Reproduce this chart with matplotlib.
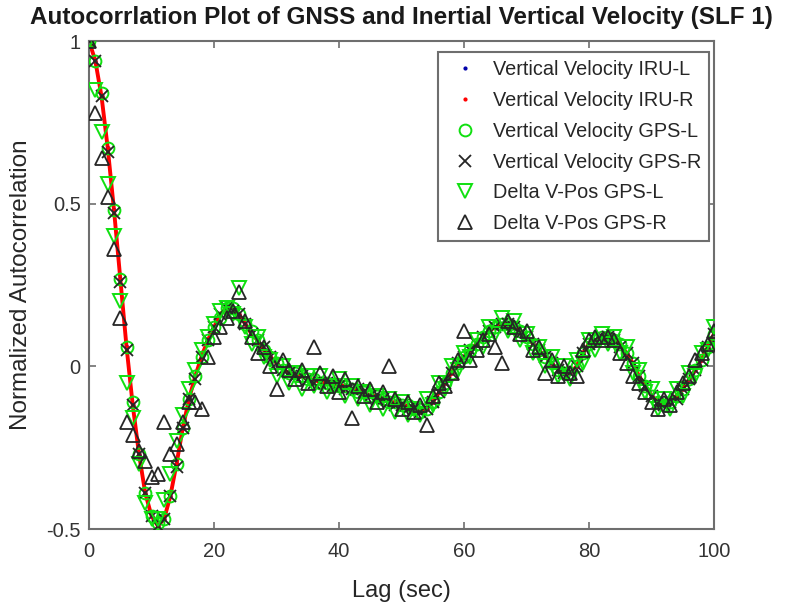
import matplotlib
matplotlib.use("Agg")
import matplotlib.pyplot as plt

plt.rcParams['font.family'] = ['Liberation Sans', 'DejaVu Sans']

lag = list(range(0, 101))

iru_r = [1.00, 0.94, 0.83, 0.67, 0.48, 0.27, 0.06, -0.12, -0.27, -0.39, -0.46,
         -0.49, -0.47, -0.40, -0.30, -0.19, -0.10, -0.03, 0.03, 0.08, 0.12,
         0.16, 0.18, 0.18, 0.16, 0.13, 0.10, 0.08, 0.05, 0.03, 0.01,
         -0.01, -0.02, -0.03, -0.03, -0.04, -0.04, -0.05, -0.05, -0.05, -0.06,
         -0.06, -0.07, -0.07, -0.08, -0.09, -0.09, -0.10, -0.11, -0.11, -0.12,
         -0.12, -0.13, -0.14, -0.13, -0.11, -0.08, -0.05, -0.02, 0.01, 0.03,
         0.05, 0.07, 0.09, 0.11, 0.12, 0.13, 0.13, 0.12, 0.11, 0.09,
         0.07, 0.05, 0.03, 0.01, -0.01, -0.02, -0.02, 0.00, 0.04, 0.07,
         0.08, 0.09, 0.09, 0.08, 0.07, 0.04, 0.01, -0.03, -0.06, -0.09,
         -0.11, -0.12, -0.11, -0.09, -0.07, -0.04, -0.01, 0.02, 0.06, 0.10]

iru_l = [1.00, 0.94, 0.83, 0.67, 0.48, 0.27, 0.06, -0.12, -0.27, -0.39, -0.46,
         -0.49, -0.47, -0.40, -0.30, -0.19, -0.10, -0.03, 0.03, 0.08, 0.12,
         0.16, 0.18, 0.18, 0.16, 0.13, 0.10, 0.08, 0.05, 0.03, 0.01,
         -0.01, -0.02, -0.03, -0.03, -0.04, -0.04, -0.05, -0.05, -0.05, -0.06,
         -0.06, -0.07, -0.07, -0.08, -0.09, -0.09, -0.10, -0.11, -0.11, -0.12,
         -0.12, -0.13, -0.14, -0.13, -0.11, -0.08, -0.05, -0.02, 0.01, 0.03,
         0.05, 0.07, 0.09, 0.11, 0.12, 0.13, 0.13, 0.12, 0.11, 0.09,
         0.07, 0.05, 0.03, 0.01, -0.01, -0.02, -0.02, 0.00, 0.04, 0.07,
         0.08, 0.09, 0.09, 0.08, 0.07, 0.04, 0.01, -0.03, -0.06, -0.09,
         -0.11, -0.12, -0.11, -0.09, -0.07, -0.04, -0.01, 0.02, 0.06, 0.10]

gps_l = [1.00, 0.94, 0.84, 0.67, 0.48, 0.27, 0.06, -0.11, -0.27, -0.39, -0.46,
         -0.48, -0.47, -0.40, -0.30, -0.19, -0.10, -0.03, 0.03, 0.08, 0.12,
         0.15, 0.18, 0.18, 0.16, 0.13, 0.11, 0.08, 0.05, 0.03, 0.01,
         -0.01, -0.02, -0.02, -0.03, -0.04, -0.04, -0.05, -0.05, -0.06, -0.06,
         -0.06, -0.07, -0.08, -0.08, -0.09, -0.09, -0.10, -0.11, -0.11, -0.12,
         -0.12, -0.13, -0.14, -0.13, -0.11, -0.08, -0.05, -0.02, 0.01, 0.03,
         0.05, 0.07, 0.09, 0.11, 0.12, 0.13, 0.13, 0.12, 0.11, 0.09,
         0.07, 0.05, 0.03, 0.01, -0.01, -0.02, -0.02, 0.00, 0.04, 0.07,
         0.08, 0.09, 0.09, 0.08, 0.07, 0.04, 0.01, -0.03, -0.06, -0.09,
         -0.11, -0.12, -0.11, -0.09, -0.07, -0.04, -0.01, 0.02, 0.06, 0.10]

gps_r = [1.00, 0.94, 0.83, 0.66, 0.47, 0.26, 0.05, -0.12, -0.27, -0.39, -0.46,
         -0.49, -0.47, -0.40, -0.31, -0.19, -0.10, -0.04, 0.03, 0.08, 0.12,
         0.16, 0.18, 0.17, 0.16, 0.13, 0.10, 0.08, 0.06, 0.03, 0.01,
         -0.01, -0.02, -0.03, -0.03, -0.04, -0.05, -0.05, -0.05, -0.06, -0.06,
         -0.07, -0.07, -0.07, -0.08, -0.09, -0.10, -0.10, -0.11, -0.12, -0.12,
         -0.13, -0.13, -0.14, -0.13, -0.11, -0.08, -0.05, -0.02, 0.01, 0.03,
         0.05, 0.07, 0.09, 0.11, 0.12, 0.13, 0.13, 0.12, 0.10, 0.09,
         0.07, 0.05, 0.03, 0.01, -0.01, -0.02, -0.02, 0.00, 0.04, 0.07,
         0.08, 0.09, 0.09, 0.08, 0.06, 0.04, 0.01, -0.03, -0.06, -0.09,
         -0.11, -0.12, -0.11, -0.10, -0.07, -0.04, -0.01, 0.02, 0.06, 0.10]

dvpos_l = [1.00, 0.85, 0.72, 0.56, 0.40, 0.20, -0.05, -0.16, -0.30, -0.42, -0.47,
           -0.47, -0.41, -0.33, -0.23, -0.15, -0.07, -0.01, 0.05, 0.09, 0.13,
           0.17, 0.18, 0.16, 0.24, 0.12, 0.07, 0.09, 0.03, 0.02, -0.03,
           0.00, -0.05, -0.02, -0.07, -0.03, -0.06, -0.03, -0.08, -0.06, -0.04,
           -0.09, -0.06, -0.10, -0.08, -0.12, -0.09, -0.13, -0.10, -0.14, -0.11,
           -0.15, -0.13, -0.15, -0.10, -0.12, -0.05, -0.07, 0.00, -0.01, 0.04,
           0.03, 0.08, 0.06, 0.12, 0.10, 0.15, 0.11, 0.14, 0.08, 0.10,
           0.04, 0.06, 0.00, 0.03, -0.03, 0.00, -0.04, 0.02, 0.01, 0.08,
           0.05, 0.10, 0.07, 0.09, 0.04, 0.06, -0.02, -0.01, -0.08, -0.07,
           -0.13, -0.10, -0.13, -0.07, -0.09, -0.02, -0.03, 0.04, 0.05, 0.12]

dvpos_r = [1.00, 0.78, 0.64, 0.52, 0.36, 0.15, -0.17, -0.21, -0.26, -0.29, -0.34,
           -0.33, -0.17, -0.27, -0.24, -0.17, -0.11, -0.11, -0.13, 0.03, 0.09,
           0.12, 0.15, 0.17, 0.23, 0.14, 0.09, 0.04, 0.06, 0.00, -0.07,
           0.02, -0.01, -0.04, -0.01, -0.05, 0.06, -0.02, -0.06, -0.03, -0.08,
           -0.04, -0.16, -0.06, -0.09, -0.07, -0.11, -0.08, 0.00, -0.10, -0.13,
           -0.11, -0.14, -0.12, -0.18, -0.09, -0.05, -0.06, -0.02, 0.02, 0.11,
           0.02, 0.05, 0.08, 0.10, 0.06, 0.01, 0.14, 0.12, 0.10, 0.11,
           0.05, 0.06, -0.02, 0.02, -0.03, 0.00, -0.02, -0.03, 0.05, 0.08,
           0.09, 0.08, 0.09, 0.08, 0.04, 0.01, -0.03, -0.05, -0.08, -0.11,
           -0.13, -0.10, -0.12, -0.08, -0.05, -0.03, 0.02, 0.04, 0.07, 0.11]

x_ticks = [0, 20, 40, 60, 80, 100]
y_ticks = [-0.5, 0, 0.5, 1]
y_ticklabels = ['-0.5', '0', '0.5', '1']

green = '#10e010'
dark = '#262626'
axcol = '#6e6e6e'

fig = plt.figure(figsize=(7.85, 6.13), dpi=100)
ax = fig.add_axes([0.1134, 0.137, 0.7962, 0.7961])

ax.plot(lag, iru_l, linestyle='-', color='blue', lw=1.0, zorder=2)
ax.plot(lag, iru_r, linestyle='-', color='red', lw=2.8, zorder=2)
ax.plot(lag, iru_l, linestyle='none', marker='.', ms=4, color='#0000aa',
        label='Vertical Velocity IRU-L', zorder=2)
ax.plot(lag, iru_r, linestyle='none', marker='.', ms=4, color='red',
        label='Vertical Velocity IRU-R', zorder=2)
ax.plot(lag, gps_l, linestyle='none', marker='o', ms=8.5, mfc='none', mec=green,
        mew=1.4, label='Vertical Velocity GPS-L', zorder=3)
ax.plot(lag, gps_r, linestyle='none', marker='x', ms=8.5, color=dark,
        mew=1.3, label='Vertical Velocity GPS-R', zorder=3)
ax.plot(lag, dvpos_l, linestyle='none', marker='v', ms=9.5, mfc='none', mec=green,
        mew=1.4, label='Delta V-Pos GPS-L', zorder=3)
ax.plot(lag, dvpos_r, linestyle='none', marker='^', ms=9.5, mfc='none', mec=dark,
        mew=1.3, label='Delta V-Pos GPS-R', zorder=4)

ax.set_xlim(0, 100)
ax.set_ylim(-0.5, 1)
ax.set_xticks(x_ticks)
ax.set_xticklabels([str(t) for t in x_ticks])
ax.set_yticks(y_ticks)
ax.set_yticklabels(y_ticklabels)
ax.tick_params(direction='in', top=True, right=True, length=5, width=1.2,
               colors=axcol, labelcolor='#333333', labelsize=14.5)
ax.tick_params(axis='x', pad=9)
ax.tick_params(axis='y', pad=6)
for s in ax.spines.values():
    s.set_color(axcol)
    s.set_linewidth(1.5)

ax.set_xlabel('Lag (sec)', fontsize=17, color='#262626', labelpad=14)
ax.set_ylabel('Normalized Autocorrelation', fontsize=17.5, color='#262626', labelpad=10)
ax.set_title('Autocorrlation Plot of GNSS and Inertial Vertical Velocity (SLF 1)',
             fontsize=17.5, fontweight='bold', color='#1a1a1a', pad=12)

leg = ax.legend(loc='upper right', bbox_to_anchor=(0.999, 0.986), fontsize=14.3,
                frameon=True, fancybox=False, edgecolor=axcol, framealpha=1,
                handlelength=2.0, handletextpad=0.4, labelspacing=0.6,
                borderpad=0.4, borderaxespad=0.2, markerscale=1.0)
leg.get_frame().set_linewidth(1.5)
for t in leg.get_texts():
    t.set_color('#262626')

fig.savefig('out.png', dpi=100)
